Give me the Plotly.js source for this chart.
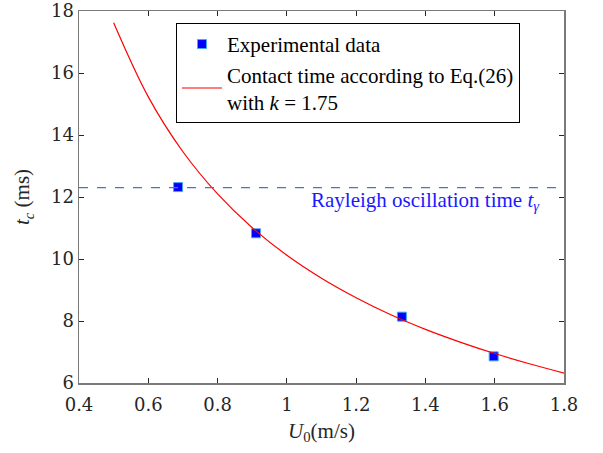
<!DOCTYPE html>
<html>
<head>
<meta charset="utf-8">
<script src="https://cdn.plot.ly/plotly-3.0.1.min.js"></script>
<style>html,body{margin:0;padding:0;background:#fff;}#chart{width:603px;height:453px;}</style>
</head>
<body>
<div id="chart"></div>
<script>
// Experimental data
const expU = [0.686, 0.911, 1.332, 1.597];
const expT = [12.32, 10.83, 8.14, 6.86];
// Model curve
const curveU = [0.5, 0.6, 0.7, 0.8, 0.9, 1.0, 1.1, 1.2, 1.3, 1.4, 1.5, 1.6, 1.7, 1.8];
const curveT = [17.62, 15.23, 13.46, 12.10, 11.01, 10.12, 9.38, 8.75, 8.20, 7.73, 7.32, 6.95, 6.62, 6.32];
// Rayleigh oscillation time
const rayleighT = [12.3];
const xTicks = [0.4, 0.6, 0.8, 1, 1.2, 1.4, 1.6, 1.8];
const yTicks = [6, 8, 10, 12, 14, 16, 18];

const serif = '"Liberation Serif", "Times New Roman", serif';
const tickFont = {family: '"DejaVu Serif", serif', size: 18, color: '#262626'};

const traces = [
  {
    x: expU, y: expT, type: 'scatter', mode: 'markers',
    name: 'Experimental data',
    marker: {symbol: 'square', size: 9, color: '#0000ff', line: {color: '#4aa6f0', width: 1}}
  },
  {
    x: curveU, y: curveT, type: 'scatter', mode: 'lines',
    name: 'Contact time according to Eq.(26)<br>with <i>k</i> = 1.75',
    line: {color: '#ff0000', width: 1.2, shape: 'spline'}
  }
];

const axisCommon = {
  showgrid: false, zeroline: false,
  showline: true, linecolor: '#7a7a7a', linewidth: 1.5,
  mirror: 'ticks', ticks: 'inside', ticklen: 5, tickwidth: 1, tickcolor: '#262626',
  tickfont: tickFont
};

const layout = {
  width: 603, height: 453,
  margin: {l: 79, r: 39, t: 11, b: 70},
  paper_bgcolor: '#fff', plot_bgcolor: '#fff',
  showlegend: true,
  xaxis: Object.assign({}, axisCommon, {
    range: [0.4, 1.8], tickvals: xTicks, ticktext: xTicks.map(String),
    ticklabelstandoff: 5,
    title: {text: '<i>U</i><sub>0</sub>(m/s)', font: {family: serif, size: 21, color: '#262626'}, standoff: 9}
  }),
  yaxis: Object.assign({}, axisCommon, {
    range: [6, 18], tickvals: yTicks, ticktext: yTicks.map(String),
    title: {text: '<i>t<sub>c</sub></i> (ms)', font: {family: serif, size: 21, color: '#262626'}, standoff: 15}
  }),
  legend: {
    x: 0.2, y: 0.968, xanchor: 'left', yanchor: 'top',
    bgcolor: '#fff', bordercolor: '#000', borderwidth: 1,
    font: {family: serif, size: 21, color: '#000'},
    tracegroupgap: 0, itemwidth: 40
  },
  shapes: [{
    type: 'line', xref: 'paper', x0: 0, x1: 1, yref: 'y', y0: rayleighT[0], y1: rayleighT[0],
    line: {color: '#4a72c8', width: 1.3, dash: 'dash'}
  }],
  annotations: [{
    xref: 'paper', x: 0.955, xanchor: 'right', yref: 'y', y: rayleighT[0], yanchor: 'middle', yshift: -13,
    text: 'Rayleigh oscillation time <i>t<sub>γ</sub></i>', showarrow: false,
    font: {family: serif, size: 21, color: '#1a1aff'}
  }]
};

Plotly.newPlot('chart', traces, layout, {displayModeBar: false, staticPlot: true});
</script>
</body>
</html>
